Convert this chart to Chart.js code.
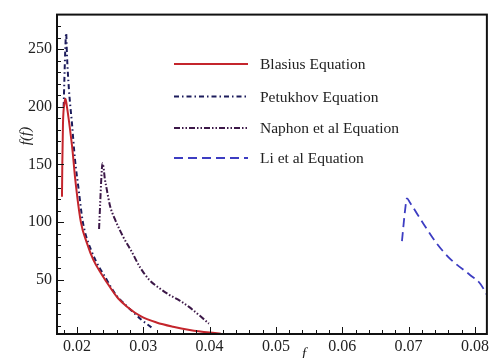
<!DOCTYPE html>
<html>
<head>
<meta charset="utf-8">
<script src="https://cdn.jsdelivr.net/npm/chart.js@4/dist/chart.umd.min.js"></script>
<style>
  html, body { margin: 0; padding: 0; background: #fff; }
  canvas { display: block; }
</style>
</head>
<body>
<canvas id="chart" width="492" height="358"></canvas>
<script>
// Friction factor curves f(f) vs f
const blasiusF = [0.01775, 0.0178, 0.0179, 0.01815, 0.01828, 0.0185, 0.01884, 0.01936, 0.0197, 0.0206, 0.0215, 0.0225, 0.0237, 0.0250, 0.0262, 0.0276, 0.0296, 0.0320, 0.0345, 0.0370, 0.0400, 0.0417];
const blasiusY = [122, 150, 185, 204, 207, 200, 186, 161, 140, 100, 82, 67, 55, 43.5, 34, 26.5, 18.5, 13, 9.3, 6.5, 4.2, 3.3];

const petukhovF = [0.0180, 0.01825, 0.01838, 0.0185, 0.0188, 0.01925, 0.0197, 0.02025, 0.0209, 0.0222, 0.0245, 0.0260, 0.0270, 0.0284, 0.0296, 0.0314];
const petukhovY = [200, 250, 264, 245, 215, 186, 155, 129, 100, 75, 50, 36, 30, 22.5, 16, 8];

const naphonF = [0.02334, 0.0235, 0.0237, 0.02385, 0.0240, 0.0242, 0.02445, 0.0250, 0.0257, 0.0270, 0.0282, 0.0295, 0.0309, 0.0325, 0.0339, 0.0355, 0.0369, 0.0385, 0.0399];
const naphonY = [94, 115, 140, 151, 148, 138, 130, 114, 103, 87, 75, 61, 50, 42.5, 37, 32, 26.5, 19, 12];

const liF = [0.0690, 0.0695, 0.06975, 0.0702, 0.0723, 0.0743, 0.0763, 0.0793, 0.0808, 0.0818, 0.0825];
const liY = [83.6, 112, 120.7, 117, 98, 81, 68, 54, 46.6, 37, 30];

const xTicks = [0.02, 0.03, 0.04, 0.05, 0.06, 0.07, 0.08];
const yTicks = [50, 100, 150, 200, 250];

const seriesNames = ['Blasius Equation', 'Petukhov Equation', 'Naphon et al Equation', 'Li et al Equation'];

const SERIF = "'Liberation Serif', 'Times New Roman', serif";

const styles = [
  { color: '#c4252c', dash: [], width: 2 },
  { color: '#1c1c5c', dash: [5, 3, 1.5, 3], width: 2 },
  { color: '#3c1848', dash: [6, 2, 1.5, 2, 1.5, 2], width: 2 },
  { color: '#3d3dc2', dash: [9, 5], width: 1.8 },
];

const pts = (xs, ys) => xs.map((x, i) => ({ x, y: ys[i] }));
const allData = [
  pts(blasiusF, blasiusY),
  pts(petukhovF, petukhovY),
  pts(naphonF, naphonY),
  pts(liF, liY),
];

// frame, inward ticks, legend and axis labels
const decorations = {
  id: 'decorations',
  afterDatasetsDraw(chart) {
    const { ctx, chartArea: a, scales } = chart;
    const xs = scales.x, ys = scales.y;
    ctx.save();
    ctx.strokeStyle = '#111';
    ctx.lineWidth = 1;
    ctx.setLineDash([]);

    // x ticks, minor every 0.002
    for (let k = 9; k <= 40; k++) {
      const v = k * 0.002;
      const px = Math.round(xs.getPixelForValue(v)) + 0.5;
      if (px < a.left + 1 || px > a.right - 1) continue;
      const len = (k % 5 === 0) ? 7 : 4;
      ctx.beginPath();
      ctx.moveTo(px, a.bottom);
      ctx.lineTo(px, a.bottom - len);
      ctx.stroke();
    }
    // y ticks, minor every 10
    for (let v = 10; v <= 270; v += 10) {
      const py = Math.round(ys.getPixelForValue(v)) + 0.5;
      const len = (v % 50 === 0) ? 7 : 4;
      ctx.beginPath();
      ctx.moveTo(a.left, py);
      ctx.lineTo(a.left + len, py);
      ctx.stroke();
    }

    // frame
    ctx.lineWidth = 2;
    ctx.strokeRect(a.left, a.top, a.right - a.left, a.bottom - a.top);

    // legend
    const rows = [64, 96.5, 128, 158];
    ctx.font = '15.5px ' + SERIF;
    ctx.textBaseline = 'middle';
    ctx.fillStyle = '#222';
    seriesNames.forEach((name, i) => {
      const s = styles[i];
      ctx.strokeStyle = s.color;
      ctx.lineWidth = s.width;
      ctx.setLineDash(s.dash);
      ctx.beginPath();
      ctx.moveTo(174, rows[i]);
      ctx.lineTo(248, rows[i]);
      ctx.stroke();
      ctx.fillText(name, 260, rows[i] + 1);
    });
    ctx.setLineDash([]);

    // axis titles
    ctx.fillStyle = '#222';
    ctx.font = 'italic 15px ' + SERIF;
    ctx.textAlign = 'center';
    ctx.fillText('f', 304, 354);
    ctx.translate(26, 136);
    ctx.rotate(-Math.PI / 2);
    ctx.fillText('f(f)', 0, 0);
    ctx.restore();
  }
};

new Chart(document.getElementById('chart'), {
  type: 'scatter',
  data: {
    datasets: allData.map((d, i) => ({
      label: seriesNames[i],
      data: d,
      showLine: true,
      borderColor: styles[i].color,
      borderWidth: styles[i].width,
      borderDash: styles[i].dash,
      pointRadius: 0,
      cubicInterpolationMode: 'monotone',
      fill: false,
    })),
  },
  options: {
    responsive: false,
    animation: false,
    layout: { padding: { left: 0, top: 11, right: 2, bottom: 0 } },
    plugins: {
      legend: { display: false },
      tooltip: { enabled: false },
    },
    scales: {
      x: {
        type: 'linear',
        min: 0.017,
        max: 0.0818,
        grid: { display: false, drawTicks: false },
        border: { display: false },
        afterBuildTicks: s => { s.ticks = xTicks.map(v => ({ value: v })); },
        afterFit: s => { s.height = 24; },
        ticks: {
          color: '#222',
          padding: 3,
          font: { family: SERIF, size: 16 },
          callback: v => v.toFixed(2),
        },
      },
      y: {
        type: 'linear',
        min: 3,
        max: 280,
        grid: { display: false, drawTicks: false },
        border: { display: false },
        afterBuildTicks: s => { s.ticks = yTicks.map(v => ({ value: v })); },
        afterFit: s => { s.width = 57; },
        ticks: {
          color: '#222',
          padding: 5,
          font: { family: SERIF, size: 16 },
        },
      },
    },
  },
  plugins: [decorations],
});
</script>
</body>
</html>
